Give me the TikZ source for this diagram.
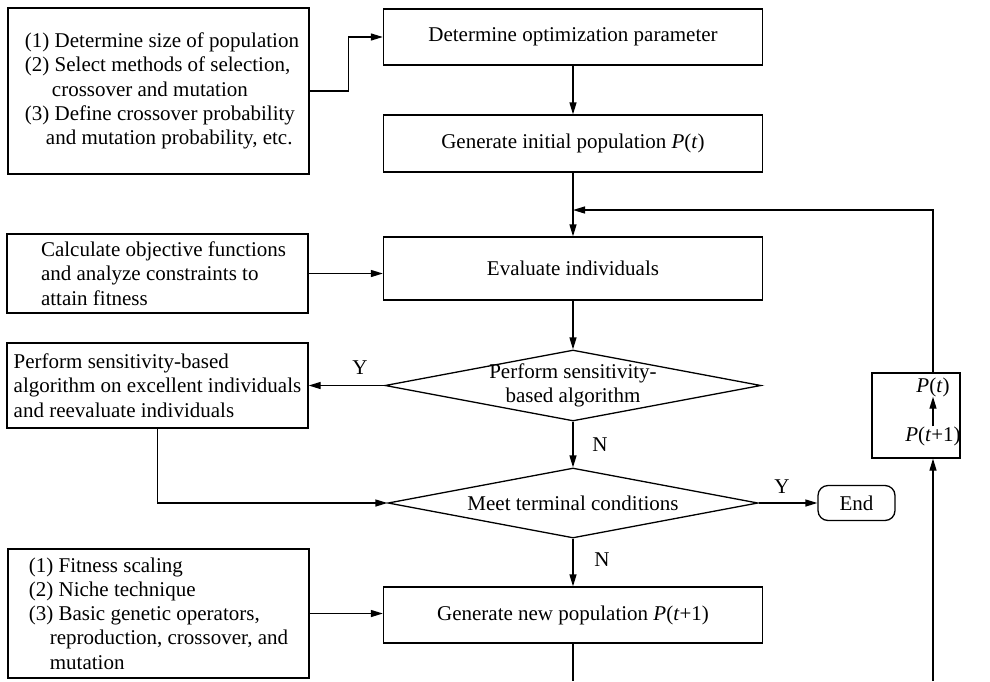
\documentclass[tikz,border=0pt]{standalone}
\usepackage{fontspec}
\setmainfont{Liberation Serif}
\usetikzlibrary{shapes.geometric,arrows.meta}
\begin{document}
\begin{tikzpicture}[x=1pt,y=-1pt,
  every node/.style={font=\fontsize{21}{24.3}\selectfont},
  box/.style={draw,line width=1.3pt,inner sep=0pt},
  dia/.style={draw,line width=1.3pt,shape=diamond,inner sep=0pt},
  arr/.style={line width=1.3pt,-{Stealth[length=12pt,width=7pt,inset=0pt]}},
  ln/.style={line width=1.3pt},
  lbl/.style={inner sep=0pt}]
\useasboundingbox (0,0) rectangle (990,681);
% boxes
\node[box,minimum width=301pt,minimum height=166pt,align=left] (boxA) at (158.5,91)
  {\hspace*{7pt}(1) Determine size of population\\
   \hspace*{7pt}(2) Select methods of selection,\\
   \hspace*{34pt}crossover and mutation\\
   \hspace*{7pt}(3) Define crossover probability\\
   \hspace*{28pt}and mutation probability, etc.};
\node[box,minimum width=379pt,minimum height=56pt] (opt) at (573,37) {Determine optimization parameter};
\node[box,minimum width=379pt,minimum height=57pt] (init) at (573,143.5) {Generate initial population \textit{P}(\textit{t})};
\node[box,minimum width=379pt,minimum height=63pt] (eval) at (573,268.5) {Evaluate individuals};
\node[box,minimum width=301pt,minimum height=79pt,align=left] (calc) at (157.5,273.5)
  {\hspace*{12pt}Calculate objective functions\\
   \hspace*{12pt}and analyze constraints to\\
   \hspace*{12pt}attain fitness};
\node[box,minimum width=301pt,minimum height=85pt,align=left] (sensbox) at (157.5,385.5)
  {Perform sensitivity-based\\
   algorithm on excellent individuals\\
   and reevaluate individuals};
\node[box,minimum width=301pt,minimum height=129pt,align=left] (fitbox) at (158.5,613.5)
  {(1) Fitness scaling\\
   (2) Niche technique\\
   (3) Basic genetic operators,\\
   \hspace*{21pt}reproduction, crossover, and\\
   \hspace*{21pt}mutation};
\node[box,minimum width=379pt,minimum height=56pt] (newpop) at (573,615) {Generate new population \textit{P}(\textit{t}+1)};
% diamonds
\node[dia,minimum width=376pt,minimum height=71pt,
  label={[align=center,lbl]center:Perform sensitivity-\\based algorithm}] (sens) at (573,385.5) {};
\node[dia,minimum width=370pt,minimum height=70pt,
  label={[lbl]center:Meet terminal conditions}] (term) at (573,503) {};
\node[box,rounded corners=10pt,minimum width=77pt,minimum height=35pt] (end) at (856.5,503) {End};
% P box
\node[box,minimum width=88pt,minimum height=85pt] (pbox) at (916,415.5) {};
\node[lbl] (pt) at (933,387) {\textit{P}(\textit{t})};
\node[lbl] (pt1) at (933,436) {\textit{P}(\textit{t}+1)};
% labels
\node[lbl] (y1) at (360,368) {Y};
\node[lbl] (n1) at (600,445) {N};
\node[lbl] (y2) at (782,487) {Y};
\node[lbl] (n2) at (602,560) {N};
% coordinates
\coordinate (join) at (573,210);
\coordinate (bot1) at (573,681);
\coordinate (bot2) at (933,681);
\coordinate (ptop) at (933,373);
% connectors
\draw[arr] (boxA.east) -- ++(39,0) |- (opt.west);
\draw[arr] (opt.south) -- (init.north);
\draw[arr] (init.south) -- (eval.north);
\draw[arr] (ptop) |- (join);
\draw[arr] (calc.east) -- (calc.east -| eval.west);
\draw[arr] (eval.south) -- (sens.north);
\draw[arr] (sens.west) -- (sens.west -| sensbox.east);
\draw[arr] (sensbox.south) |- (term.west);
\draw[arr] (sens.south) -- (term.north);
\draw[arr] (term.east) -- (end.west);
\draw[arr] (term.south) -- (newpop.north);
\draw[arr] (fitbox.east) -- (fitbox.east -| newpop.west);
\draw[ln] (newpop.south) -- (bot1);
\draw[arr] (bot2) -- (pbox.south -| bot2);
\draw[arr] (pt1.north) -- (pt.south);
\end{tikzpicture}
\end{document}
